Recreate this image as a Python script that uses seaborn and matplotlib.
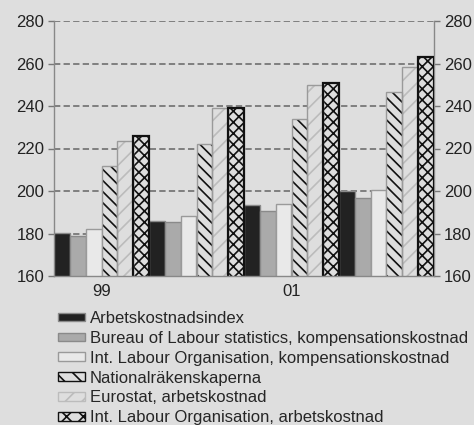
import matplotlib
matplotlib.use("Agg")
import matplotlib.pyplot as plt
from matplotlib.patches import Patch
import seaborn as sns
import pandas as pd

years = ["99", "00", "01", "02"]
tick_labels = ["99", "", "01", ""]
sources = [
    "Arbetskostnadsindex",
    "Bureau of Labour statistics, kompensationskostnad",
    "Int. Labour Organisation, kompensationskostnad",
    "Nationalräkenskaperna",
    "Eurostat, arbetskostnad",
    "Int. Labour Organisation, arbetskostnad",
]
aki = [180.4, 186.0, 193.4, 200.0]
bls = [178.8, 185.3, 190.6, 196.9]
ilo_komp = [182.0, 188.2, 193.9, 200.6]
national = [211.9, 222.3, 233.7, 246.4]
eurostat = [223.5, 239.2, 250.0, 258.2]
ilo_arb = [225.9, 239.2, 251.0, 262.9]
series = [aki, bls, ilo_komp, national, eurostat, ilo_arb]

rows = []
for s, vals in zip(sources, series):
    for y, v in zip(years, vals):
        rows.append({"year": y, "source": s, "value": v})
df = pd.DataFrame(rows)

BG = "#dedede"
fills = ["#222222", "#aaaaaa", "#e9e9e9", BG, BG, BG]
hatches = [None, None, None, "\\\\\\", "//", "xxx"]
leg_hatches = [None, None, None, "\\\\", "//", "xx"]
hatch_cols = [None, None, None, "#111111", "#bcbcbc", "#111111"]
edges = ["#8a8a8a", "#8a8a8a", "#9a9a9a", "#9a9a9a", "#9a9a9a", "#111111"]
edge_lw = [1.0, 1.0, 1.0, 1.0, 1.0, 1.6]

sns.set_theme(style="white")
plt.rcParams["font.family"] = ["Liberation Sans", "DejaVu Sans"]
plt.rcParams["hatch.linewidth"] = 1.2

fig = plt.figure(figsize=(4.74, 4.25), dpi=100, facecolor=BG)
ax = fig.add_axes([54 / 474, 1 - 276 / 425, 380 / 474, 255 / 425])
ax.set_facecolor(BG)

sns.barplot(data=df, x="year", y="value", hue="source", hue_order=sources,
            order=years, width=1.0, dodge=True, errorbar=None,
            palette=dict(zip(sources, fills)), legend=False, ax=ax, zorder=3,
            saturation=1)

for i, cont in enumerate(ax.containers):
    for p in cont.patches:
        p.set_facecolor(fills[i])
        if hatches[i]:
            p.set_hatch(hatches[i])
            p.set_edgecolor(hatch_cols[i])
            p.set_linewidth(0)
            ol = plt.Rectangle(p.get_xy(), p.get_width(), p.get_height(),
                               fill=False, edgecolor=edges[i], linewidth=edge_lw[i],
                               zorder=4)
            ax.add_patch(ol)
        else:
            p.set_edgecolor(edges[i])
            p.set_linewidth(edge_lw[i])

ax.set_ylim(160, 280)
ax.set_xlim(-0.5, 3.5)
ax.set_yticks(range(160, 281, 20))
ax.set_xticks(range(len(years)))
ax.set_xticklabels(tick_labels)
ax.set_xticks([-0.5, 0.5, 1.5, 2.5], minor=True)
ax.tick_params(axis="x", which="major", length=0, labelsize=12, colors="#222222", pad=6)
ax.tick_params(axis="x", which="minor", length=4, width=1, color="#555555", direction="out")
ax.tick_params(axis="y", which="major", left=True, right=True, labelleft=True, labelright=True,
               length=4, width=1, color="#777777", labelsize=12, labelcolor="#222222", pad=3.2,
               direction="out")
ax.set_xlabel("")
ax.set_ylabel("")

for y in range(180, 281, 20):
    ax.axhline(y, color="#777777", lw=1.3, linestyle=(0, (3.5, 1.8)), zorder=1)

for side in ["left", "right", "bottom"]:
    ax.spines[side].set_visible(True)
    ax.spines[side].set_color("#888888")
    ax.spines[side].set_linewidth(1.0)
ax.spines["top"].set_visible(False)
ax.spines["bottom"].set_zorder(5)

handles = []
for i in range(6):
    handles.append(Patch(facecolor=fills[i], edgecolor=hatch_cols[i] or edges[i],
                         hatch=leg_hatches[i], linewidth=1.0))
fig.legend(handles, sources, loc="upper left", bbox_to_anchor=(58 / 474, 1 - 311 / 425),
           frameon=False, fontsize=12, handlelength=1.6, handleheight=0.42,
           handletextpad=0.3, labelspacing=0.29, borderpad=0, borderaxespad=0)

fig.savefig("out.png", dpi=100, facecolor=BG)
